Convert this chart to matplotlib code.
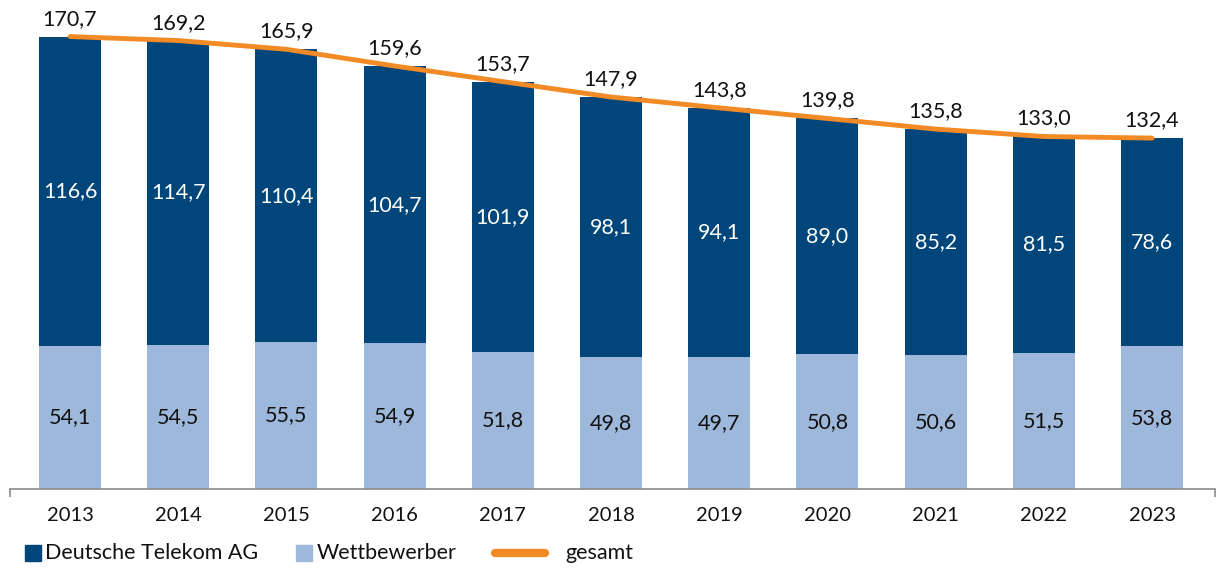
import numpy as np
import matplotlib.pyplot as plt
from matplotlib.lines import Line2D
from matplotlib.patches import Rectangle

plt.rcParams['font.family'] = ['Lato', 'DejaVu Sans']

years = ['2013', '2014', '2015', '2016', '2017', '2018', '2019', '2020', '2021', '2022', '2023']
telekom = [116.6, 114.7, 110.4, 104.7, 101.9, 98.1, 94.1, 89.0, 85.2, 81.5, 78.6]
wettbewerber = [54.1, 54.5, 55.5, 54.9, 51.8, 49.8, 49.7, 50.8, 50.6, 51.5, 53.8]
gesamt = [170.7, 169.2, 165.9, 159.6, 153.7, 147.9, 143.8, 139.8, 135.8, 133.0, 132.4]

dark = '#00467A'
light = '#9DB8DA'
orange = '#F28A26'
W, H = 1216, 568

def fmt(v):
    return f'{v:.1f}'.replace('.', ',')

fig = plt.figure(figsize=(W / 100, H / 100), dpi=100)
ax = fig.add_axes([10 / W, 79 / H, 1205 / W, 489 / H])

x = np.arange(len(years))
w = 0.573
ax.bar(x, wettbewerber, w, color=light)
ax.bar(x, telekom, w, bottom=wettbewerber, color=dark)
ax.plot(x, gesamt, color=orange, lw=3.5, solid_capstyle='round', zorder=3)

for i in range(len(years)):
    ax.text(x[i], wettbewerber[i] / 2, fmt(wettbewerber[i]), ha='center', va='center',
            fontsize=15.5, color='#111111')
    ax.text(x[i], wettbewerber[i] + telekom[i] / 2, fmt(telekom[i]), ha='center', va='center',
            fontsize=15.5, color='white')
    ax.text(x[i], gesamt[i] + 3, fmt(gesamt[i]), ha='center', va='bottom',
            fontsize=15.5, color='#111111')

ax.set_xlim(-0.555, len(years) - 1 + 0.582)
ax.set_ylim(0, 184.5)
ax.set_yticks([])
for s in ['top', 'right', 'left']:
    ax.spines[s].set_visible(False)
ax.spines['bottom'].set_color('#8C8C8C')
ax.spines['bottom'].set_linewidth(1.2)

ax.set_xticks(x)
ax.set_xticklabels(years, fontsize=14.5, color='#111111')
ax.tick_params(axis='x', length=0, pad=13)
ax.set_xticks(list(ax.get_xlim()), minor=True)
ax.tick_params(axis='x', which='minor', length=6, color='#8C8C8C', width=1.2)

# legend, placed by hand along the bottom
ly = (H - 553) / H
fig.add_artist(Rectangle((25 / W, (H - 561) / H), 16 / W, 16 / H, color=dark, transform=fig.transFigure))
fig.text(45 / W, ly, 'Deutsche Telekom AG', fontsize=15.5, va='center', color='#111111')
fig.add_artist(Rectangle((296 / W, (H - 561) / H), 16 / W, 16 / H, color=light, transform=fig.transFigure))
fig.text(317 / W, ly, 'Wettbewerber', fontsize=15.5, va='center', color='#111111')
fig.add_artist(Line2D([495 / W, 545 / W], [ly, ly], color=orange, lw=6, solid_capstyle='round',
                      transform=fig.transFigure))
fig.text(565 / W, ly, 'gesamt', fontsize=15.5, va='center', color='#111111')

fig.savefig('out.png', dpi=100)
